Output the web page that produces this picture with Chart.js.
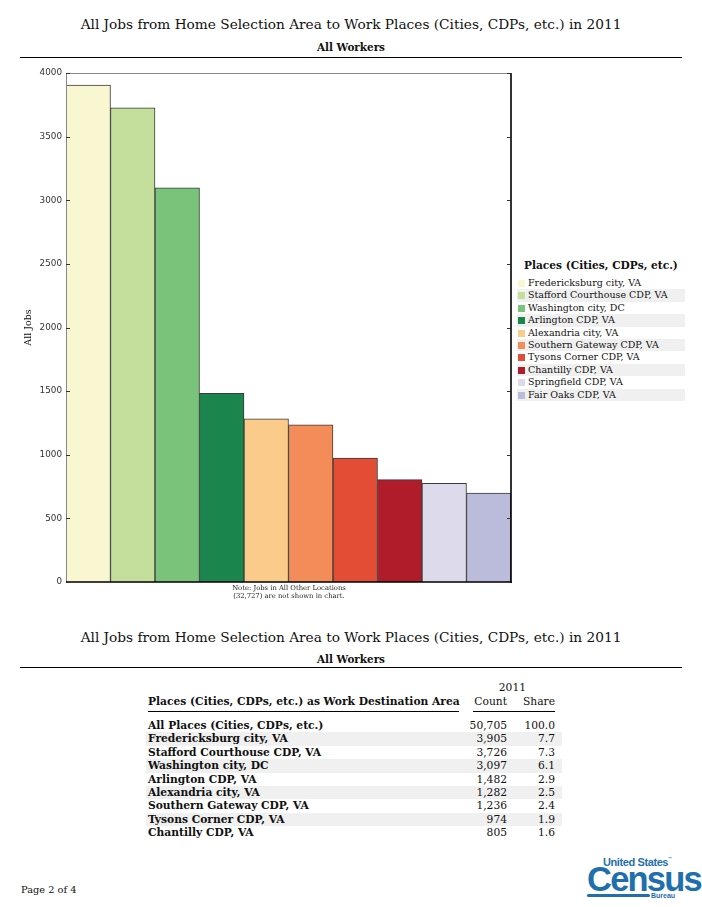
<!DOCTYPE html>
<html>
<head>
<meta charset="utf-8">
<script src="https://cdn.jsdelivr.net/npm/chart.js@4.4.0/dist/chart.umd.min.js"></script>
<style>
  html, body { margin:0; padding:0; background:#fff; }
  body { width:702px; height:907px; position:relative; overflow:hidden; font-family:"DejaVu Serif", serif; color:#111; }
  .title { position:absolute; left:0; width:702px; text-align:center; font-size:13.7px; }
  .sub { position:absolute; left:0; width:702px; text-align:center; font-size:10.4px; font-weight:bold; }
  .rule { position:absolute; left:20px; width:662px; height:0; border-top:1px solid #000; }
  #chartWrap { position:absolute; left:20px; top:60px; width:495px; height:535px; }
  #note { position:absolute; left:189px; width:200px; top:584px; text-align:center; font-size:6.8px; line-height:8px; color:#222; }
  #legend { position:absolute; left:517px; top:257px; width:168px; }
  #legend .lt { font-size:10.6px; font-weight:bold; margin-left:7px; height:20px; line-height:16px; white-space:nowrap; }
  #legend .row { height:12.4px; line-height:12.4px; font-size:9.5px; white-space:nowrap; position:relative; padding-left:11px; }
  #legend .row.alt { background:#f0f0f0; }
  #legend .sw { position:absolute; left:1px; top:3px; width:7px; height:7px; }
  #tbl { position:absolute; left:0; top:681px; width:702px; height:170px; font-size:10.7px; }
  #tbl .r { position:absolute; left:146px; width:416px; height:13.4px; line-height:13.4px; }
  #tbl .r.alt { background:#f0f0f0; }
  #tbl .c0 { position:absolute; left:2px; white-space:nowrap; font-weight:bold; }
  #tbl .c1 { position:absolute; right:55px; text-align:right; }
  #tbl .c2 { position:absolute; right:7px; text-align:right; }
  #foot { position:absolute; left:21px; top:884px; font-size:9.8px; }
  #logo { position:absolute; left:587px; top:856px; width:115px; height:46px; color:#1f6fae; font-family:"Liberation Sans", Arial, sans-serif; font-weight:bold; }
</style>
</head>
<body>
<div class="title" style="top:16px;">All Jobs from Home Selection Area to Work Places (Cities, CDPs, etc.) in 2011</div>
<div class="sub" style="top:41px;">All Workers</div>
<div class="rule" style="top:57px;"></div>

<div id="chartWrap"><canvas id="c" width="495" height="535"></canvas></div>
<div id="note">Note: Jobs in All Other Locations<br>(32,727) are not shown in chart.</div>
<div id="legend"></div>

<div class="title" style="top:629px;">All Jobs from Home Selection Area to Work Places (Cities, CDPs, etc.) in 2011</div>
<div class="sub" style="top:653px;">All Workers</div>
<div class="rule" style="top:667px;"></div>

<div id="tbl"></div>

<div id="foot">Page 2 of 4</div>
<div id="logo">
  <div style="position:absolute; left:16px; top:0px; font-size:11px; letter-spacing:-0.4px; white-space:nowrap;">United States<span style="font-size:4px; vertical-align:top;">™</span></div>
  <div id="census" style="position:absolute; left:0px; top:3px; font-size:35px; letter-spacing:-1.8px; transform-origin:left top; white-space:nowrap;">Census</div>
  <div style="position:absolute; left:0px; top:38px; width:63px; height:3px; background:#1f6fae; border-radius:2px;"></div>
  <div style="position:absolute; left:64px; top:36px; font-size:7px;">Bureau</div>
</div>

<script>
// ---- data ----
const places = [
  "Fredericksburg city, VA",
  "Stafford Courthouse CDP, VA",
  "Washington city, DC",
  "Arlington CDP, VA",
  "Alexandria city, VA",
  "Southern Gateway CDP, VA",
  "Tysons Corner CDP, VA",
  "Chantilly CDP, VA",
  "Springfield CDP, VA",
  "Fair Oaks CDP, VA"
];
const jobs = [3905, 3726, 3097, 1482, 1282, 1236, 974, 805, 775, 698];
const barColors = ["#f9f7d1", "#c4df9b", "#79c37a", "#1a854c", "#fbcb8a", "#f48c5a", "#e34d35", "#b11c2a", "#dcdaeb", "#bbbbdb"];
const yTickValues = [0, 500, 1000, 1500, 2000, 2500, 3000, 3500, 4000];

const tableHeaderPlace = "Places (Cities, CDPs, etc.) as Work Destination Area";
const tableYear = "2011";
const tablePlaces = ["All Places (Cities, CDPs, etc.)", "Fredericksburg city, VA", "Stafford Courthouse CDP, VA", "Washington city, DC", "Arlington CDP, VA", "Alexandria city, VA", "Southern Gateway CDP, VA", "Tysons Corner CDP, VA", "Chantilly CDP, VA"];
const tableCounts = ["50,705", "3,905", "3,726", "3,097", "1,482", "1,282", "1,236", "974", "805"];
const tableShares = ["100.0", "7.7", "7.3", "6.1", "2.9", "2.5", "2.4", "1.9", "1.6"];

// ---- logo fit ----
(function(){
  const el = document.getElementById('census');
  const w = el.getBoundingClientRect().width;
  el.style.transform = 'scaleX(' + (114 / w) + ')';
})();

// ---- legend ----
const lg = document.getElementById('legend');
let lh = '<div class="lt">Places (Cities, CDPs, etc.)</div>';
places.forEach((p, i) => {
  lh += '<div class="row' + (i % 2 ? ' alt' : '') + '"><span class="sw" style="background:' + barColors[i] + '"></span>' + p + '</div>';
});
lg.innerHTML = lh;

// ---- table ----
const tb = document.getElementById('tbl');
let th = '';
th += '<div class="r" style="top:0px;"><span class="c2" style="right:36px;">' + tableYear + '</span></div>';
th += '<div class="r" style="top:14px;"><span class="c0">' + tableHeaderPlace + '</span>' +
      '<span class="c1">Count</span><span class="c2">Share</span></div>';
th += '<div style="position:absolute; left:148px; top:30px; width:311px; border-top:1px solid #000;"></div>';
th += '<div style="position:absolute; left:473px; top:30px; width:82px; border-top:1px solid #000;"></div>';
tablePlaces.forEach((p, i) => {
  const top = 38 + i * 13.4;
  th += '<div class="r' + (i % 2 ? ' alt' : '') + '" style="top:' + top + 'px"><span class="c0">' + p + '</span><span class="c1">' + tableCounts[i] + '</span><span class="c2">' + tableShares[i] + '</span></div>';
});
tb.innerHTML = th;

// ---- chart ----
const frameAndTicks = {
  id: 'frameAndTicks',
  afterDatasetsDraw(chart) {
    const { ctx, chartArea: a } = chart;
    const ys = chart.scales.y;
    ctx.save();
    ctx.strokeStyle = '#888';
    ctx.lineWidth = 1;
    ctx.beginPath();
    ctx.moveTo(a.left, a.top + 0.5); ctx.lineTo(a.right, a.top + 0.5);
    ctx.moveTo(a.left + 0.5, a.top); ctx.lineTo(a.left + 0.5, a.bottom);
    ctx.stroke();
    ctx.strokeStyle = '#000';
    ctx.lineWidth = 1.6;
    ctx.beginPath();
    ctx.moveTo(a.right, a.top); ctx.lineTo(a.right, a.bottom + 1);
    ctx.moveTo(a.left, a.bottom); ctx.lineTo(a.right + 1, a.bottom);
    ctx.stroke();
    ctx.strokeStyle = '#333';
    ctx.lineWidth = 1;
    ctx.beginPath();
    ys.ticks.forEach(t => {
      const y = Math.round(ys.getPixelForValue(t.value)) + 0.5;
      ctx.moveTo(a.left, y); ctx.lineTo(a.left + 4, y);
      ctx.moveTo(a.right - 4, y); ctx.lineTo(a.right, y);
    });
    ctx.stroke();
    ctx.restore();
  }
};

new Chart(document.getElementById('c'), {
  type: 'bar',
  data: {
    labels: places,
    datasets: [{
      data: jobs,
      backgroundColor: barColors,
      borderColor: '#3a3a3a',
      borderWidth: 1,
      borderSkipped: 'bottom',
      categoryPercentage: 1.0,
      barPercentage: 1.0
    }]
  },
  options: {
    responsive: false,
    animation: false,
    layout: { padding: { top: 13, bottom: 13, right: 4, left: 0 } },
    plugins: { legend: { display: false }, tooltip: { enabled: false } },
    scales: {
      x: { display: false },
      y: {
        min: 0, max: 4000,
        afterBuildTicks(scale) { scale.ticks = yTickValues.map(v => ({ value: v })); },
        afterFit(scale) { scale.width = 46; },
        grid: { display: false, drawTicks: false },
        border: { display: false },
        ticks: { padding: 4, color: '#333', font: { family: 'DejaVu Sans', size: 8.8 }, callback: v => String(v) },
        title: { display: true, text: 'All Jobs', color: '#111', padding: { top: 3, bottom: 0 }, font: { family: 'DejaVu Serif', size: 9.5 } }
      }
    }
  },
  plugins: [frameAndTicks]
});
</script>
</body>
</html>
